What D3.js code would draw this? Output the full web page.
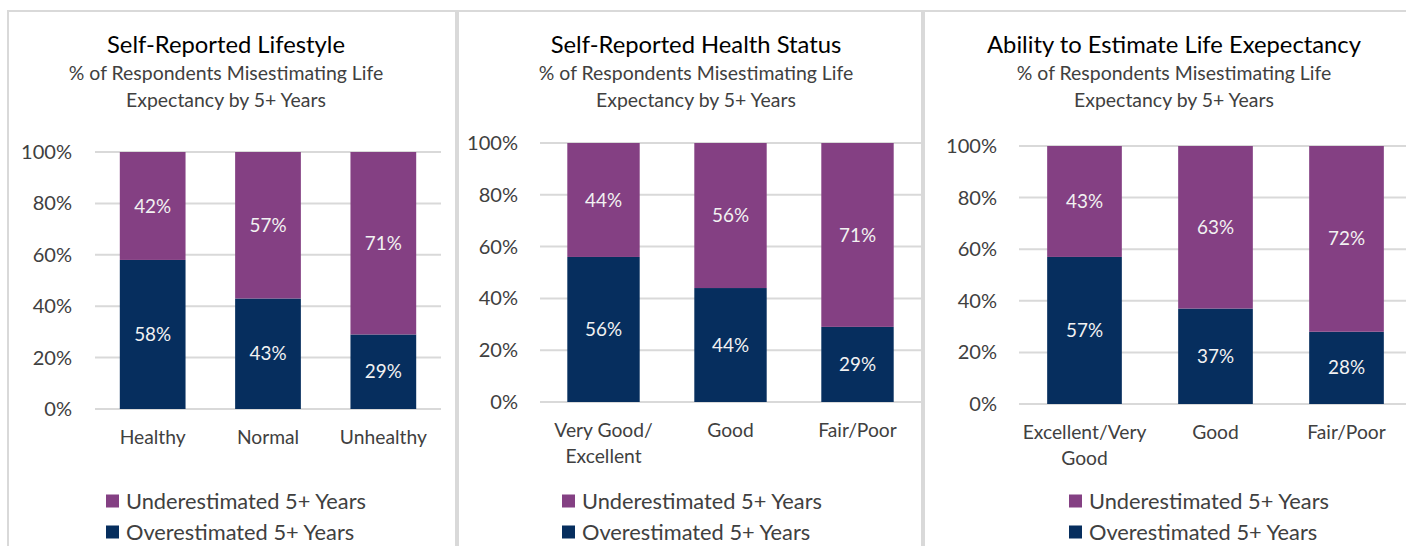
<!DOCTYPE html>
<html>
<head>
<meta charset="utf-8">
<script src="https://cdn.jsdelivr.net/npm/d3@7"></script>
<style>
  html, body { margin: 0; padding: 0; background: #ffffff; }
  svg { display: block; }
</style>
</head>
<body>
<svg id="chart" width="1406" height="546"></svg>
<script>
// ---------- data ----------
const seriesNames = ["Underestimated 5+ Years", "Overestimated 5+ Years"];
const panelTitles = ["Self-Reported Lifestyle", "Self-Reported Health Status", "Ability to Estimate Life Exepectancy"];
const subtitleLines = ["% of Respondents Misestimating Life", "Expectancy by 5+ Years"];
const tickValues = [0, 20, 40, 60, 80, 100];
const tickLabels = ["0%", "20%", "40%", "60%", "80%", "100%"];

const lifestyleCategories = ["Healthy", "Normal", "Unhealthy"];
const lifestyleOver = [58, 43, 29];
const lifestyleUnder = [42, 57, 71];

const healthCategories = ["Very Good/\nExcellent", "Good", "Fair/Poor"];
const healthOver = [56, 44, 29];
const healthUnder = [44, 56, 71];

const abilityCategories = ["Excellent/Very\nGood", "Good", "Fair/Poor"];
const abilityOver = [57, 37, 28];
const abilityUnder = [43, 63, 72];

// ---------- style / layout ----------
const colUnder = "#844083";
const colOver = "#062e5e";
const gridCol = "#d9d9d9";
const textCol = "#404040";
const FONT = "Lato, 'Open Sans', sans-serif";

const ctx = document.createElement("canvas").getContext("2d");
function fit(str, target, weight) {
  ctx.font = (weight || "normal") + " 100px " + FONT;
  return 100 * target / ctx.measureText(str).width;
}
const titleSize = fit("Self-Reported Lifestyle", 238);
const subSize = fit("% of Respondents Misestimating Life", 315);
const tickSize = fit("100%", 51);
const catSize = fit("Unhealthy", 87);
const labelSize = fit("42%", 37);
const legendSize = fit("Underestimated 5+ Years", 241);

const svg = d3.select("#chart");

// panel frames
const frames = [[8, 456], [458, 922], [924, 1420]];
frames.forEach(([x0, x1]) => {
  svg.append("rect").attr("x", x0).attr("y", 11).attr("width", x1 - x0).attr("height", 560)
    .attr("fill", "#fff").attr("stroke", gridCol).attr("stroke-width", 2);
});

const panels = [
  { cats: lifestyleCategories, over: lifestyleOver, under: lifestyleUnder, title: panelTitles[0],
    cx: 226, xr: [95, 441], yr: [409, 152], tickX: 72, legX: 106 },
  { cats: healthCategories, over: healthOver, under: healthUnder, title: panelTitles[1],
    cx: 696, xr: [540, 921], yr: [402, 143], tickX: 518, legX: 562 },
  { cats: abilityCategories, over: abilityOver, under: abilityUnder, title: panelTitles[2],
    cx: 1174, xr: [1019, 1412], yr: [404, 146], tickX: 997, legX: 1069 }
];

panels.forEach(p => {
  const g = svg.append("g");
  const x = d3.scaleBand().domain(p.cats).range(p.xr).paddingInner(0.43).paddingOuter(0.215);
  const y = d3.scaleLinear().domain([0, 100]).range(p.yr);

  // titles
  g.append("text").attr("x", p.cx).attr("y", 53).attr("text-anchor", "middle")
    .attr("font-family", FONT).attr("font-size", titleSize).attr("fill", "#000").text(p.title);
  subtitleLines.forEach((s, i) => {
    g.append("text").attr("x", p.cx).attr("y", 80 + i * 27).attr("text-anchor", "middle")
      .attr("font-family", FONT).attr("font-size", subSize).attr("fill", textCol).text(s);
  });

  // gridlines + y axis
  const yAxis = d3.axisLeft(y).tickValues(tickValues).tickSize(0).tickPadding(0)
    .tickFormat((d, i) => tickLabels[i]);
  const ax = g.append("g").attr("transform", `translate(${p.tickX},0)`).call(yAxis);
  ax.select(".domain").remove();
  ax.selectAll("text").attr("font-family", FONT).attr("font-size", tickSize).attr("fill", textCol);

  g.append("g").selectAll("line").data(tickValues).join("line")
    .attr("x1", p.xr[0]).attr("x2", p.xr[1])
    .attr("y1", d => y(d)).attr("y2", d => y(d))
    .attr("stroke", gridCol).attr("stroke-width", 2);

  const rows = p.cats.map((c, i) => ({ c, over: p.over[i], under: p.under[i] }));

  // bars
  g.append("g").selectAll("rect").data(rows).join("rect")
    .attr("x", d => x(d.c)).attr("width", x.bandwidth())
    .attr("y", d => y(d.over)).attr("height", d => y(0) - y(d.over))
    .attr("fill", colOver);
  g.append("g").selectAll("rect").data(rows).join("rect")
    .attr("x", d => x(d.c)).attr("width", x.bandwidth())
    .attr("y", d => y(d.over + d.under)).attr("height", d => y(d.over) - y(d.over + d.under))
    .attr("fill", colUnder);

  // data labels
  const lab = g.append("g").attr("font-family", FONT).attr("font-size", labelSize)
    .attr("fill", "#f2f2f2").attr("text-anchor", "middle");
  rows.forEach(d => {
    lab.append("text").attr("x", x(d.c) + x.bandwidth() / 2).attr("y", y(d.over / 2))
      .attr("dy", "0.35em").text(d.over + "%");
    lab.append("text").attr("x", x(d.c) + x.bandwidth() / 2).attr("y", y(d.over + d.under / 2))
      .attr("dy", "0.35em").text(d.under + "%");
  });

  // category labels
  const xAxis = d3.axisBottom(x).tickSize(0).tickPadding(0);
  const xa = g.append("g").attr("transform", `translate(0,${y(0)})`).call(xAxis);
  xa.select(".domain").remove();
  xa.selectAll("text").each(function (d) {
    const t = d3.select(this).text("").attr("dy", null).attr("y", 0)
      .attr("font-family", FONT).attr("font-size", catSize).attr("fill", textCol);
    d.split("\n").forEach((line, i) => {
      t.append("tspan").attr("x", 0).attr("y", 28 + i * 26).attr("dy", "0.35em").text(line);
    });
  });

  // legend
  const leg = g.append("g");
  seriesNames.forEach((s, i) => {
    const cy = 501 + i * 31;
    leg.append("rect").attr("x", p.legX).attr("y", cy - 6.5).attr("width", 13).attr("height", 13)
      .attr("fill", i === 0 ? colUnder : colOver);
    leg.append("text").attr("x", p.legX + 20).attr("y", cy).attr("dy", "0.35em")
      .attr("font-family", FONT).attr("font-size", legendSize).attr("fill", textCol).text(s);
  });
});
</script>
</body>
</html>
